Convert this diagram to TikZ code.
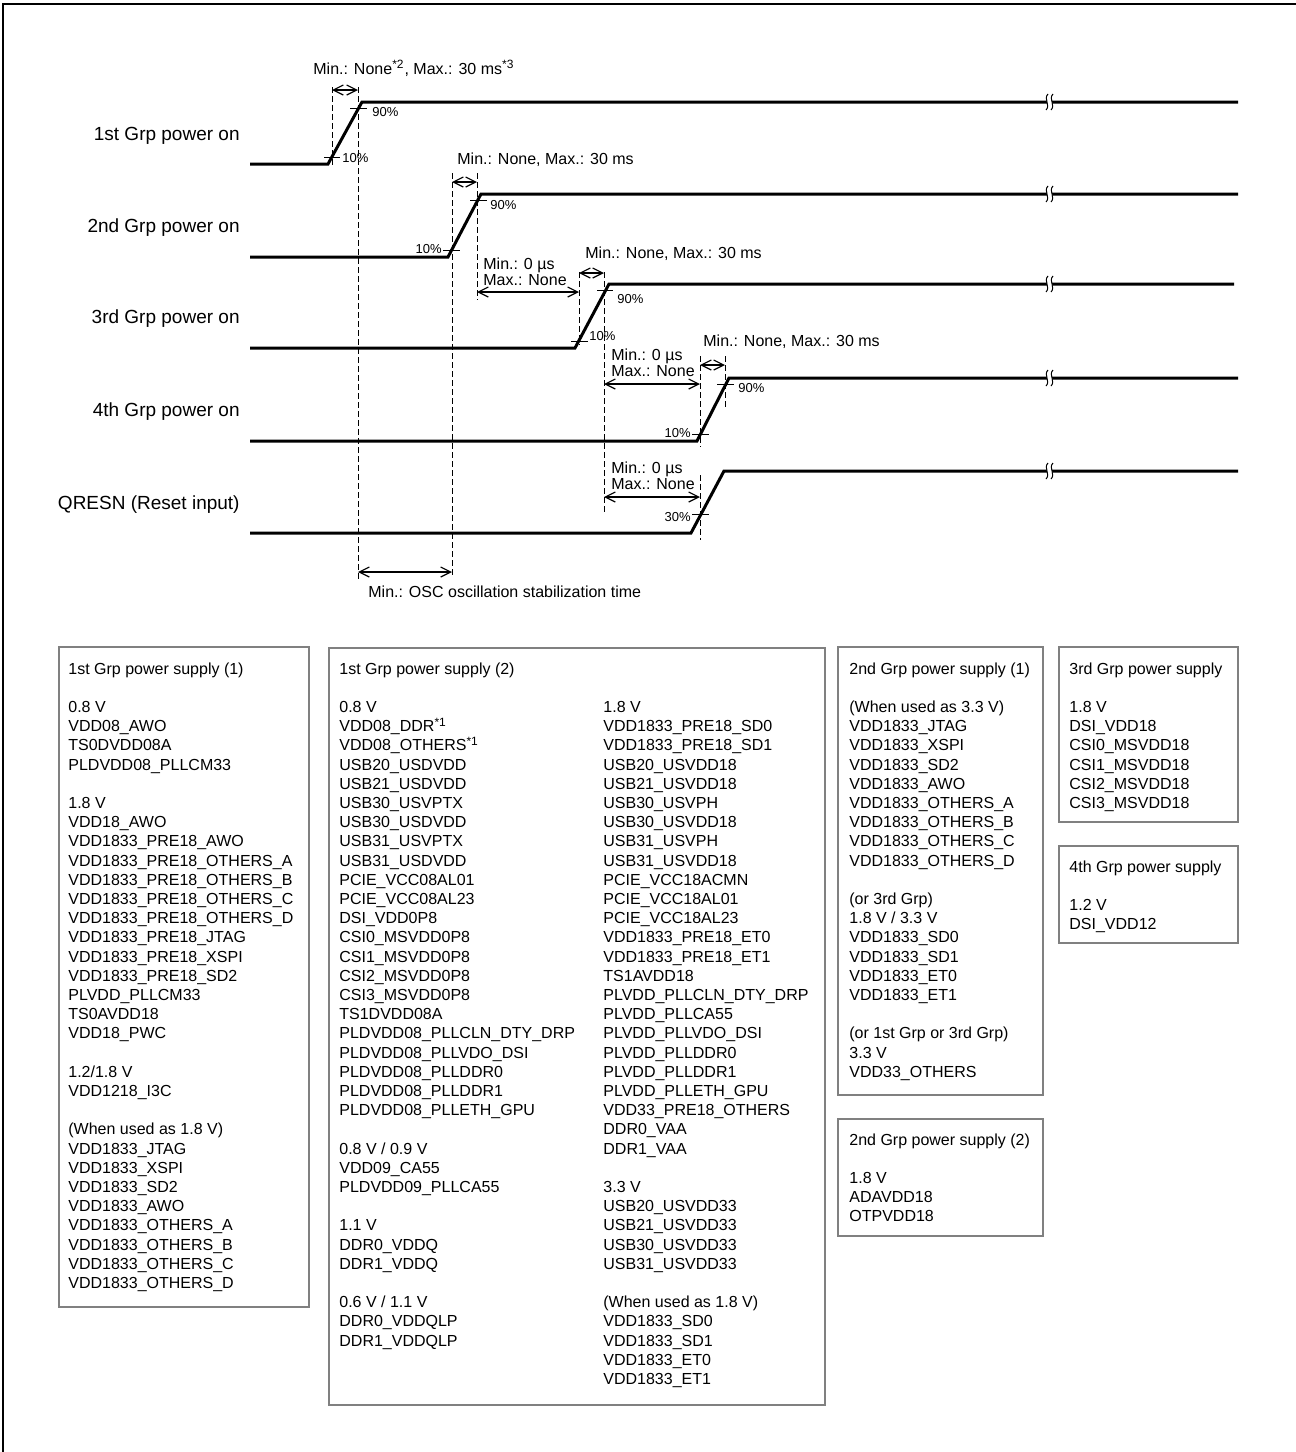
\documentclass[tikz,border=0pt]{standalone}
\usepackage{fontspec}
\setmainfont{Liberation Sans}
\usetikzlibrary{arrows.meta}

\tikzset{
  sigline/.style={line width=1.5pt},
  guideline/.style={line width=0.5pt, dash pattern=on 3pt off 1.5pt},
  timespan/.style={line width=0.6pt,
    {Straight Barb[length=5pt,width=5pt]}-{Straight Barb[length=5pt,width=5pt]}},
  pctmark/.style={line width=0.6pt},
  signame/.style={font=\fontsize{9.5}{11}\selectfont, anchor=base east, inner sep=0pt},
  timenote/.style={font=\fontsize{8}{8}\selectfont, anchor=base west, inner sep=0pt, align=left},
  pct/.style={font=\fontsize{6.5}{7}\selectfont, inner sep=1pt},
  supplybox/.style={draw=black!50, line width=1pt},
  supplytext/.style={font=\fontsize{8}{9.6}\selectfont, anchor=north west, inner sep=0pt, align=left},
  wavebreak/.pic={
    \fill[white] (-1,-8) .. controls (-6,-3) and (2,3) .. (-3,8)
      -- (2,8) .. controls (7,3) and (-1,-3) .. (4,-8) -- cycle;
    \draw[line width=0.5pt] (-1,-8) .. controls (-6,-3) and (2,3) .. (-3,8);
    \draw[line width=0.5pt] (4,-8) .. controls (-1,-3) and (7,3) .. (2,8);
  }
}

\begin{document}
\begin{tikzpicture}[x=0.5pt, y=-0.5pt]
  \useasboundingbox (0,0) rectangle (1296,1452);

  % outer frame
  \draw[line width=1pt] (2.7,1470) -- (2.7,4) -- (1310,4);

  % signal names
  \node[signame] (grp1) at (240,140) {1st Grp power on};
  \node[signame] (grp2) at (240,232) {2nd Grp power on};
  \node[signame] (grp3) at (240,323) {3rd Grp power on};
  \node[signame] (grp4) at (240,416) {4th Grp power on};
  \node[signame] (qresn) at (240,509) {QRESN (Reset input)};

  % waveforms
  \draw[sigline] (250,164) -- (328,164) -- (362,102) -- (1238,102);
  \draw[sigline] (250,257) -- (448,257) -- (481,194) -- (1238,194);
  \draw[sigline] (250,348) -- (575,348) -- (609,284) -- (1234,284);
  \draw[sigline] (250,441) -- (697,441) -- (729,378) -- (1238,378);
  \draw[sigline] (250,533) -- (691,533) -- (724,471) -- (1238,471);
  \foreach \y in {102,194,284,378,471}
    \pic at (1049,\y) {wavebreak};

  % level marks
  \draw[pctmark] (324,157.8) -- (340,157.8);
  \node[pct, anchor=west] (p1a) at (340,157.8) {10\%};
  \draw[pctmark] (350,108.2) -- (367,108.2);
  \node[pct, anchor=west] (p1b) at (370,112) {90\%};
  \draw[pctmark] (443,250.7) -- (460,250.7);
  \node[pct, anchor=east] (p2a) at (444,249) {10\%};
  \draw[pctmark] (470,200.3) -- (487,200.3);
  \node[pct, anchor=west] (p2b) at (488,205) {90\%};
  \draw[pctmark] (571,341.6) -- (588,341.6);
  \node[pct, anchor=west] (p3a) at (587,336) {10\%};
  \draw[pctmark] (597,290.4) -- (613,290.4);
  \node[pct, anchor=west] (p3b) at (615,299) {90\%};
  \draw[pctmark] (692,434.7) -- (709,434.7);
  \node[pct, anchor=east] (p4a) at (693,433) {10\%};
  \draw[pctmark] (717,384.3) -- (734,384.3);
  \node[pct, anchor=west] (p4b) at (736,388) {90\%};
  \draw[pctmark] (692,514.4) -- (709,514.4);
  \node[pct, anchor=east] (pq) at (693,517) {30\%};

  % guide lines
  \draw[guideline] (332,87) -- (332,168);
  \draw[guideline] (358,87) -- (358,580);
  \draw[guideline] (452,173) -- (452,578);
  \draw[guideline] (477,173) -- (477,300);
  \draw[guideline] (579,272) -- (579,345);
  \draw[guideline] (604,272) -- (604,513);
  \draw[guideline] (700,356) -- (700,447);
  \draw[guideline] (725,356) -- (725,408);
  \draw[guideline] (700,475) -- (700,540);

  % timing spans (two-line notes sit on their last line)
  \draw[timespan] (332,90) -- (358,90);
  \node[timenote] (t1) at (313,74)
    {Min.: None\textsuperscript{*2}, Max.: 30 ms\textsuperscript{*3}};
  \draw[timespan] (452,182) -- (477,182);
  \node[timenote] (t2) at (457,164) {Min.: None, Max.: 30 ms};
  \draw[timespan] (477,292) -- (579,292);
  \node[timenote] (d2) at (483,285) {Min.: 0 µs\\Max.: None};
  \draw[timespan] (579,273) -- (604,273);
  \node[timenote] (t3) at (585,258) {Min.: None, Max.: 30 ms};
  \draw[timespan] (604,384) -- (700,384);
  \node[timenote] (d3) at (611,376) {Min.: 0 µs\\Max.: None};
  \draw[timespan] (700,365) -- (725,365);
  \node[timenote] (t4) at (703,346) {Min.: None, Max.: 30 ms};
  \draw[timespan] (604,497) -- (700,497);
  \node[timenote] (d4) at (611,489) {Min.: 0 µs\\Max.: None};
  \draw[timespan] (358,572) -- (452,572);
  \node[timenote] (osc) at (368,597) {Min.: OSC oscillation stabilization time};

  % supply boxes
  \draw[supplybox] (59,647) rectangle (309,1307);
  \node[supplytext] (box1) at (68,660.3) {\strut 1st Grp power supply (1)\\ \\
    0.8 V\\VDD08\_AWO\\TS0DVDD08A\\PLDVDD08\_PLLCM33\\ \\
    1.8 V\\VDD18\_AWO\\VDD1833\_PRE18\_AWO\\VDD1833\_PRE18\_OTHERS\_A\\
    VDD1833\_PRE18\_OTHERS\_B\\VDD1833\_PRE18\_OTHERS\_C\\VDD1833\_PRE18\_OTHERS\_D\\
    VDD1833\_PRE18\_JTAG\\VDD1833\_PRE18\_XSPI\\VDD1833\_PRE18\_SD2\\
    PLVDD\_PLLCM33\\TS0AVDD18\\VDD18\_PWC\\ \\
    1.2/1.8 V\\VDD1218\_I3C\\ \\
    (When used as 1.8 V)\\VDD1833\_JTAG\\VDD1833\_XSPI\\VDD1833\_SD2\\
    VDD1833\_AWO\\VDD1833\_OTHERS\_A\\VDD1833\_OTHERS\_B\\VDD1833\_OTHERS\_C\\
    VDD1833\_OTHERS\_D};

  \draw[supplybox] (329,648) rectangle (825,1405);
  \node[supplytext] (box2a) at (339,660.3) {\strut 1st Grp power supply (2)\\ \\
    0.8 V\\VDD08\_DDR\textsuperscript{*1}\\VDD08\_OTHERS\textsuperscript{*1}\\
    USB20\_USDVDD\\USB21\_USDVDD\\USB30\_USVPTX\\USB30\_USDVDD\\
    USB31\_USVPTX\\USB31\_USDVDD\\PCIE\_VCC08AL01\\PCIE\_VCC08AL23\\
    DSI\_VDD0P8\\CSI0\_MSVDD0P8\\CSI1\_MSVDD0P8\\CSI2\_MSVDD0P8\\CSI3\_MSVDD0P8\\
    TS1DVDD08A\\PLDVDD08\_PLLCLN\_DTY\_DRP\\PLDVDD08\_PLLVDO\_DSI\\
    PLDVDD08\_PLLDDR0\\PLDVDD08\_PLLDDR1\\PLDVDD08\_PLLETH\_GPU\\ \\
    0.8 V / 0.9 V\\VDD09\_CA55\\PLDVDD09\_PLLCA55\\ \\
    1.1 V\\DDR0\_VDDQ\\DDR1\_VDDQ\\ \\
    0.6 V / 1.1 V\\DDR0\_VDDQLP\\DDR1\_VDDQLP};
  \node[supplytext] (box2b) at (603,698.7) {\strut 1.8 V\\
    VDD1833\_PRE18\_SD0\\VDD1833\_PRE18\_SD1\\USB20\_USVDD18\\USB21\_USVDD18\\
    USB30\_USVPH\\USB30\_USVDD18\\USB31\_USVPH\\USB31\_USVDD18\\
    PCIE\_VCC18ACMN\\PCIE\_VCC18AL01\\PCIE\_VCC18AL23\\
    VDD1833\_PRE18\_ET0\\VDD1833\_PRE18\_ET1\\TS1AVDD18\\
    PLVDD\_PLLCLN\_DTY\_DRP\\PLVDD\_PLLCA55\\PLVDD\_PLLVDO\_DSI\\
    PLVDD\_PLLDDR0\\PLVDD\_PLLDDR1\\PLVDD\_PLLETH\_GPU\\VDD33\_PRE18\_OTHERS\\
    DDR0\_VAA\\DDR1\_VAA\\ \\
    3.3 V\\USB20\_USVDD33\\USB21\_USVDD33\\USB30\_USVDD33\\USB31\_USVDD33\\ \\
    (When used as 1.8 V)\\VDD1833\_SD0\\VDD1833\_SD1\\VDD1833\_ET0\\VDD1833\_ET1};

  \draw[supplybox] (838,647) rectangle (1043,1095);
  \node[supplytext] (box3) at (849,660.3) {\strut 2nd Grp power supply (1)\\ \\
    (When used as 3.3 V)\\VDD1833\_JTAG\\VDD1833\_XSPI\\VDD1833\_SD2\\
    VDD1833\_AWO\\VDD1833\_OTHERS\_A\\VDD1833\_OTHERS\_B\\VDD1833\_OTHERS\_C\\
    VDD1833\_OTHERS\_D\\ \\
    (or 3rd Grp)\\1.8 V / 3.3 V\\VDD1833\_SD0\\VDD1833\_SD1\\VDD1833\_ET0\\
    VDD1833\_ET1\\ \\
    (or 1st Grp or 3rd Grp)\\3.3 V\\VDD33\_OTHERS};

  \draw[supplybox] (838,1119) rectangle (1043,1236);
  \node[supplytext] (box4) at (849,1131.3) {\strut 2nd Grp power supply (2)\\ \\
    1.8 V\\ADAVDD18\\OTPVDD18};

  \draw[supplybox] (1059,647) rectangle (1238,822);
  \node[supplytext] (box5) at (1069,660.3) {\strut 3rd Grp power supply\\ \\
    1.8 V\\DSI\_VDD18\\CSI0\_MSVDD18\\CSI1\_MSVDD18\\CSI2\_MSVDD18\\CSI3\_MSVDD18};

  \draw[supplybox] (1059,846) rectangle (1238,943);
  \node[supplytext] (box6) at (1069,858.3) {\strut 4th Grp power supply\\ \\
    1.2 V\\DSI\_VDD12};

\end{tikzpicture}
\end{document}
